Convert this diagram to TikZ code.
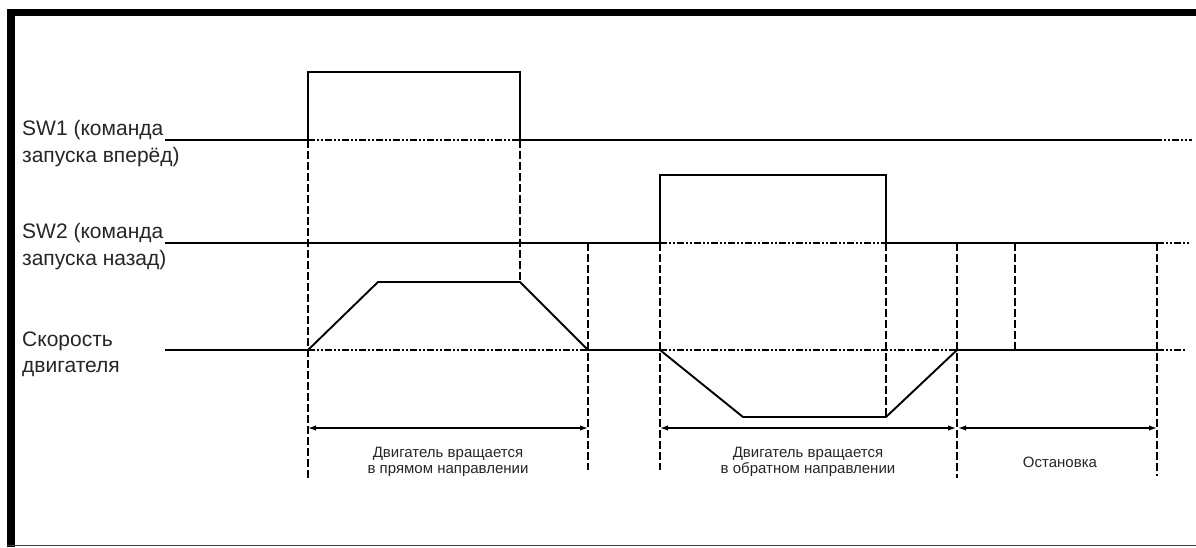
\documentclass[tikz,border=0pt]{standalone}
\usepackage{fontspec}
\setmainfont{Liberation Sans}
\usetikzlibrary{arrows.meta}
\begin{document}
\begin{tikzpicture}[x=1pt,y=-1pt,
  sig/.style={line width=1.9pt,line join=miter},
  guide/.style={line width=1.6pt,dash pattern=on 8pt off 3pt},
  ddot/.style={line width=1.6pt,dash pattern=on 7pt off 2pt on 2pt off 2pt on 2pt off 2pt},
  span/.style={line width=1.5pt,{Latex[length=8pt,width=5.5pt]}-{Latex[length=8pt,width=5.5pt]}},
  biglbl/.style={font=\fontsize{21}{24}\selectfont,anchor=base west,inner sep=0pt,text=black!85},
  smalllbl/.style={font=\fontsize{15}{16}\selectfont,align=center,inner sep=0pt,text=black!85}]
\useasboundingbox (0,0) rectangle (1196,547);
\fill[white] (0,0) rectangle (1196,547);
% frame
\coordinate (fTL) at (11,12.5);
\coordinate (fTR) at (1196,12.5);
\coordinate (fBL) at (11,547);
\coordinate (bL) at (7,545.5);
\coordinate (bR) at (1196,545.5);
\draw[line width=7.5pt] (fBL) -- (fTL) -- (fTR);
\draw[line width=1.3pt,black!75] (bL) -- (bR);

% labels
\node[biglbl] (l1a) at (22,135) {SW1 (команда};
\node[biglbl] (l1b) at (22,162) {запуска вперёд)};
\node[biglbl] (l2a) at (22,238) {SW2 (команда};
\node[biglbl] (l2b) at (22,265) {запуска назад)};
\node[biglbl] (l3a) at (22,346) {Скорость};
\node[biglbl] (l3b) at (22,372) {двигателя};

% SW1
\coordinate (a1) at (165,140); \coordinate (a2) at (308,140);
\coordinate (a3) at (308,72);  \coordinate (a4) at (520,72);
\coordinate (a5) at (520,140); \coordinate (a6) at (1155,140);
\coordinate (a7) at (1192,140);
\draw[sig] (a1) -- (a2) -- (a3) -- (a4) -- (a5) -- (a6);
\draw[ddot] (a2) -- (a5);
\draw[ddot] (a6) -- (a7);

% SW2
\coordinate (b1) at (165,243); \coordinate (b2) at (660,243);
\coordinate (b3) at (660,175); \coordinate (b4) at (886,175);
\coordinate (b5) at (886,243); \coordinate (b6) at (1157,243);
\coordinate (b7) at (1190,243);
\draw[sig] (b1) -- (b2) -- (b3) -- (b4) -- (b5) -- (b6);
\draw[ddot] (b2) -- (b5);
\draw[ddot] (b6) -- (b7);

% speed
\coordinate (c1) at (165,350); \coordinate (c2) at (308,350);
\coordinate (c3) at (378,282); \coordinate (c4) at (520,282);
\coordinate (c5) at (588,350); \coordinate (c6) at (660,350);
\coordinate (c7) at (743,417); \coordinate (c8) at (886,417);
\coordinate (c9) at (957,350); \coordinate (c10) at (1157,350);
\coordinate (c11) at (1186,350);
\draw[sig] (c1) -- (c2) -- (c3) -- (c4) -- (c5) -- (c6) -- (c7) -- (c8) -- (c9) -- (c10);
\draw[ddot] (c2) -- (c5);
\draw[ddot] (c6) -- (c9);
\draw[ddot] (c10) -- (c11);

% vertical guides
\coordinate (v1e) at (308,478);
\coordinate (v3t) at (588,243); \coordinate (v3e) at (588,470);
\coordinate (v4e) at (660,470);
\coordinate (v6t) at (957,243); \coordinate (v6e) at (957,478);
\coordinate (v7t) at (1015,243); \coordinate (v7e) at (1015,350);
\coordinate (v8e) at (1157,476);
\draw[guide] (a2) -- (v1e);
\draw[guide] (a5) -- (c4);
\draw[guide] (v3t) -- (v3e);
\draw[guide] (b2) -- (v4e);
\draw[guide] (b5) -- (c8);
\draw[guide] (v6t) -- (v6e);
\draw[guide] (v7t) -- (v7e);
\draw[guide] (b6) -- (v8e);

% spans
\coordinate (s1a) at (308,428); \coordinate (s1b) at (588,428);
\coordinate (s2a) at (660,428); \coordinate (s2b) at (956,428);
\coordinate (s3a) at (958,428); \coordinate (s3b) at (1157,428);
\draw[span] (s1a) -- (s1b);
\draw[span] (s2a) -- (s2b);
\draw[span] (s3a) -- (s3b);

\node[smalllbl] (t1) at (448,462) {Двигатель вращается\\в прямом направлении};
\node[smalllbl] (t2) at (808,462) {Двигатель вращается\\в обратном направлении};
\node[smalllbl] (t3) at (1060,462) {Остановка};
\end{tikzpicture}
\end{document}
